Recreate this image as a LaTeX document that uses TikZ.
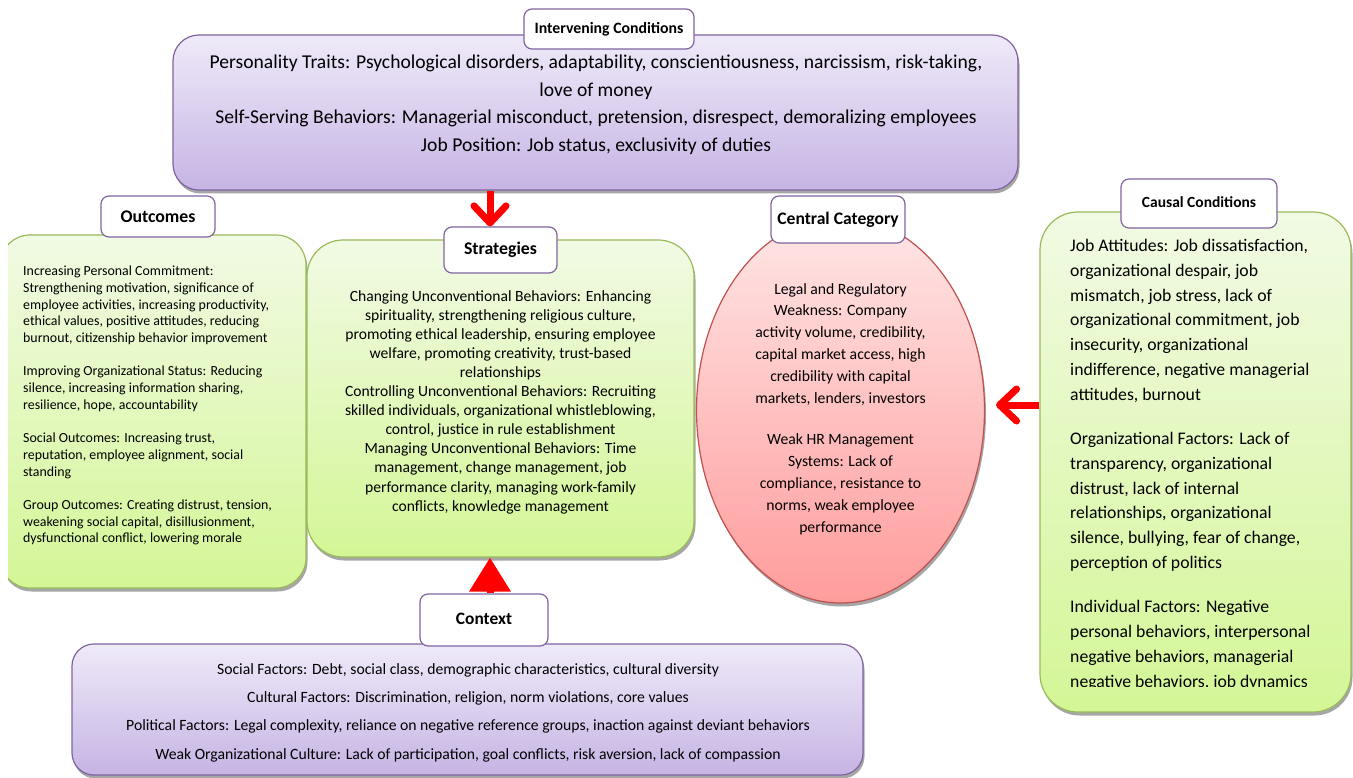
\documentclass[tikz,border=0pt]{standalone}
\usepackage{fontspec}
\setmainfont{Carlito}
\usetikzlibrary{shapes.geometric,shadows,arrows.meta}
\definecolor{purpB}{RGB}{128,100,162}
\definecolor{greenB}{RGB}{155,187,89}
\definecolor{redB}{RGB}{192,80,77}
\definecolor{purpT}{RGB}{239,234,249}
\definecolor{purpBot}{RGB}{198,180,228}
\definecolor{greenT}{RGB}{241,250,228}
\definecolor{greenBot}{RGB}{212,246,150}
\definecolor{redT}{RGB}{255,230,230}
\definecolor{redBot}{RGB}{255,156,156}
\definecolor{arrowred}{RGB}{255,0,0}
\begin{document}
\begin{tikzpicture}[x=1pt,y=-1pt,
  shad/.style={drop shadow={shadow xshift=1.5pt,shadow yshift=-3.5pt,fill=black,opacity=0.35}},
  purplebox/.style={draw=purpB,line width=1.2pt,rounded corners=26pt,top color=purpT,bottom color=purpBot,shad,inner sep=0pt},
  greenbox/.style={draw=greenB,line width=1.2pt,top color=greenT,bottom color=greenBot,shad,inner sep=0pt},
  redellipse/.style={ellipse,draw=redB,line width=1.2pt,top color=redT,bottom color=redBot,shad,inner sep=0pt},
  titlebox/.style={draw=purpB,line width=1.2pt,rounded corners=8pt,fill=white,inner sep=0pt,font=\bfseries},
  bodytext/.style={inner sep=0pt,anchor=north},
  chev/.style={draw=arrowred,line width=7pt,-{Straight Barb[length=17pt,width=32pt,line width=7pt,round]}},
  tri/.style={draw=arrowred,line width=7pt,-{Triangle[length=34pt,width=40pt,fill=arrowred]}}
]
\useasboundingbox (0,0) rectangle (1353,778);
\fill[white] (0,0) rectangle (1353,778);

% main boxes
\node[purplebox,minimum width=845pt,minimum height=155pt] (interv) at (595.5,112.5) {};
\begin{scope}
\clip (8,0) rectangle (1353,778);
\node[greenbox,rounded corners=30pt,minimum width=306pt,minimum height=353pt] (outc) at (153,411.5) {};
\end{scope}
\node[greenbox,rounded corners=36pt,minimum width=387pt,minimum height=317pt] (strat) at (500.5,398.5) {};
\node[redellipse,minimum width=288pt,minimum height=386pt] (cent) at (840.5,410) {};
\node[greenbox,rounded corners=38pt,minimum width=311pt,minimum height=500pt] (causal) at (1195.5,462) {};
\node[purplebox,rounded corners=22pt,minimum width=791pt,minimum height=131pt] (ctx) at (467.5,709.5) {};

% title boxes
\node[titlebox,font=\bfseries\fontsize{15.8}{17}\selectfont,minimum width=170pt,minimum height=40pt] (intervtitle) at (609,29) {Intervening Conditions};
\node[titlebox,font=\bfseries\fontsize{17.8}{19}\selectfont,minimum width=114pt,minimum height=41pt] (outctitle) at (158,216.5) {Outcomes};
\node[titlebox,font=\bfseries\fontsize{17.8}{19}\selectfont,minimum width=113pt,minimum height=46pt] (strattitle) at (500.5,250) {Strategies};
\node[titlebox,font=\bfseries\fontsize{17.6}{19}\selectfont,minimum width=134pt,minimum height=47pt] (centtitle) at (838,219.5) {Central Category};
\node[titlebox,font=\bfseries\fontsize{15.5}{17}\selectfont,minimum width=156pt,minimum height=49pt] (causaltitle) at (1199,203.5) {\raisebox{3pt}{Causal Conditions}};
\node[titlebox,font=\bfseries\fontsize{17.4}{19}\selectfont,minimum width=128pt,minimum height=52pt] (ctxtitle) at (484,620) {\raisebox{3pt}{Context}};

% texts
\node[bodytext,align=center,font=\fontsize{19.6}{27.7}\selectfont] (intervtext) at (596,54.6) {Personality Traits: Psychological disorders, adaptability, conscientiousness, narcissism, risk-taking,\\love of money\\Self-Serving Behaviors: Managerial misconduct, pretension, disrespect, demoralizing employees\\Job Position: Job status, exclusivity of duties};

\node[bodytext,anchor=north west,align=left,font=\fontsize{13.9}{16.7}\selectfont] (outctext) at (23,265.8) {Increasing Personal Commitment:\\Strengthening motivation, significance of\\employee activities, increasing productivity,\\ethical values, positive attitudes, reducing\\burnout, citizenship behavior improvement\\[16.7pt]Improving Organizational Status: Reducing\\silence, increasing information sharing,\\resilience, hope, accountability\\[16.7pt]Social Outcomes: Increasing trust,\\reputation, employee alignment, social\\standing\\[16.7pt]Group Outcomes: Creating distrust, tension,\\weakening social capital, disillusionment,\\dysfunctional conflict, lowering morale};

\node[bodytext,align=center,font=\fontsize{15.6}{19.1}\selectfont] (strattext) at (500.5,290) {Changing Unconventional Behaviors: Enhancing\\spirituality, strengthening religious culture,\\promoting ethical leadership, ensuring employee\\welfare, promoting creativity, trust-based\\relationships\\Controlling Unconventional Behaviors: Recruiting\\skilled individuals, organizational whistleblowing,\\control, justice in rule establishment\\Managing Unconventional Behaviors: Time\\management, change management, job\\performance clarity, managing work-family\\conflicts, knowledge management};

\node[bodytext,align=center,font=\fontsize{15.7}{21.8}\selectfont] (centtext) at (840.5,283) {Legal and Regulatory\\Weakness: Company\\activity volume, credibility,\\capital market access, high\\credibility with capital\\markets, lenders, investors\\[20pt]Weak HR Management\\Systems: Lack of\\compliance, resistance to\\norms, weak employee\\performance};

\begin{scope}
\clip (1040,212) rectangle (1351,686);
\node[bodytext,anchor=north west,align=left,font=\fontsize{17.7}{24.7}\selectfont] (causaltext) at (1070,239.4) {Job Attitudes: Job dissatisfaction,\\organizational despair, job\\mismatch, job stress, lack of\\organizational commitment, job\\insecurity, organizational\\indifference, negative managerial\\attitudes, burnout\\[20pt]Organizational Factors: Lack of\\transparency, organizational\\distrust, lack of internal\\relationships, organizational\\silence, bullying, fear of change,\\perception of politics\\[20pt]Individual Factors: Negative\\personal behaviors, interpersonal\\negative behaviors, managerial\\negative behaviors, job dynamics};
\end{scope}

\node[bodytext,align=center,font=\fontsize{15.7}{28.3}\selectfont] (ctxtext) at (468,663) {Social Factors: Debt, social class, demographic characteristics, cultural diversity\\Cultural Factors: Discrimination, religion, norm violations, core values\\Political Factors: Legal complexity, reliance on negative reference groups, inaction against deviant behaviors\\Weak Organizational Culture: Lack of participation, goal conflicts, risk aversion, lack of compassion};

% arrows
\coordinate (ax) at (490,0);
\coordinate (ay) at (0,405);
\draw[chev] (interv.south -| ax) -- (strattitle.north -| ax);
\draw[tri] (ctxtitle.north -| ax) -- (strat.south -| ax);
\draw[chev] (causal.west |- ay) -- ([xshift=11pt,yshift=5pt]cent.east);
\end{tikzpicture}
\end{document}
